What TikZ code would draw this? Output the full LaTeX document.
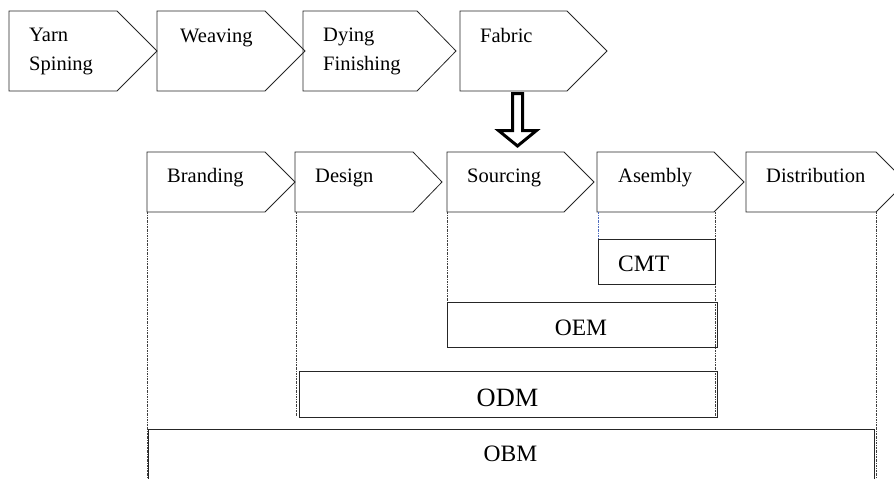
\documentclass[tikz,border=0pt]{standalone}
\usepackage{fontspec}
\setmainfont{Liberation Serif}
\newcommand\chevshape[5]{% x, y, straight width, tip, height
  \draw[chevbox] (#1,#2) -- ++(#3,0) -- ++(#4,#5/2) -- ++(-#4,#5/2) -- ++(-#3,0) -- cycle;}
\tikzset{
  chevbox/.style={draw=black!85, line width=0.8pt, line join=miter},
  lbl/.style={inner sep=0pt, anchor=base west, font=\fontsize{20.5}{29}\selectfont},
  rolebox/.style={draw=black!85, line width=0.8pt},
  rolelbl/.style={inner sep=0pt, anchor=base, font=\fontsize{23.5}{28}\selectfont},
  guide/.style={black!75, line width=0.5pt, dash pattern=on 2pt off 1pt on 0.6pt off 1pt},
  blockarrow/.style={draw=black, fill=white, line width=3pt, line join=miter, miter limit=10},
}
\begin{document}
\begin{tikzpicture}[x=1pt,y=-1pt]
\useasboundingbox (0,0) rectangle (894,479);
\clip (0,0) rectangle (894,479);
% top row
\chevshape{9}{11}{108}{40}{80}
\chevshape{157}{11}{108}{40}{80}
\chevshape{303}{11}{114}{39}{80}
\chevshape{460}{11}{107}{40}{80}
\node[lbl] (yarn) at (29,41.7) {\begin{tabular}[t]{@{}l@{}}Yarn\\Spining\end{tabular}};
\node[lbl] (weaving) at (180,42.5) {Weaving};
\node[lbl] (dying) at (323,41.7) {\begin{tabular}[t]{@{}l@{}}Dying\\Finishing\end{tabular}};
\node[lbl] (fabric) at (480,42) {Fabric};
% bottom row
\chevshape{147}{152}{118}{30}{60}
\chevshape{295}{152}{118}{29}{60}
\chevshape{447}{152}{117}{30}{60}
\chevshape{597}{152}{117}{30}{60}
\chevshape{746}{152}{130}{30}{60}
\node[lbl] (branding) at (167,182.7) {Branding};
\node[lbl] (design) at (315,182.7) {Design};
\node[lbl] (sourcing) at (467,182.7) {Sourcing};
\node[lbl] (asembly) at (618,182.7) {Asembly};
\node[lbl] (distribution) at (766,182.7) {Distribution};
% block arrow from Fabric to Sourcing
\coordinate (arrtop) at (517.5,93.5);
\coordinate (arrtip) at (517.5,146);
\draw[blockarrow] ([xshift=-5pt]arrtop) -- ++(0,37) -- (498.5,130.5) -- (arrtip)
  -- (536.5,130.5) -- (522.5,130.5) -- ([xshift=5pt]arrtop) -- cycle;
% guide lines
\draw[guide] (147,212) -- (147,479);
\draw[guide] (296,212) -- (296,416);
\draw[guide] (447,212) -- (447,302);
\draw[guide, draw={rgb,255:red,80;green,110;blue,190}] (598,212) -- (598,239);
\draw[guide] (715.5,212) -- (715.5,416);
\draw[guide] (876,212) -- (876,479);
% role boxes
\draw[rolebox] (598,239) rectangle (715,284);
\draw[rolebox] (447,302) rectangle (717,347);
\draw[rolebox] (299,371) rectangle (717,417);
\draw[rolebox] (148,429) rectangle (874,490);
\node[rolelbl, anchor=base west] (cmt) at (618,271.7) {CMT};
\node[rolelbl] (oem) at (581,335) {OEM};
\node[rolelbl, font=\fontsize{26.4}{30}\selectfont] (odm) at (507.5,406.7) {ODM};
\node[rolelbl] (obm) at (510.5,461.7) {OBM};
\end{tikzpicture}
\end{document}
